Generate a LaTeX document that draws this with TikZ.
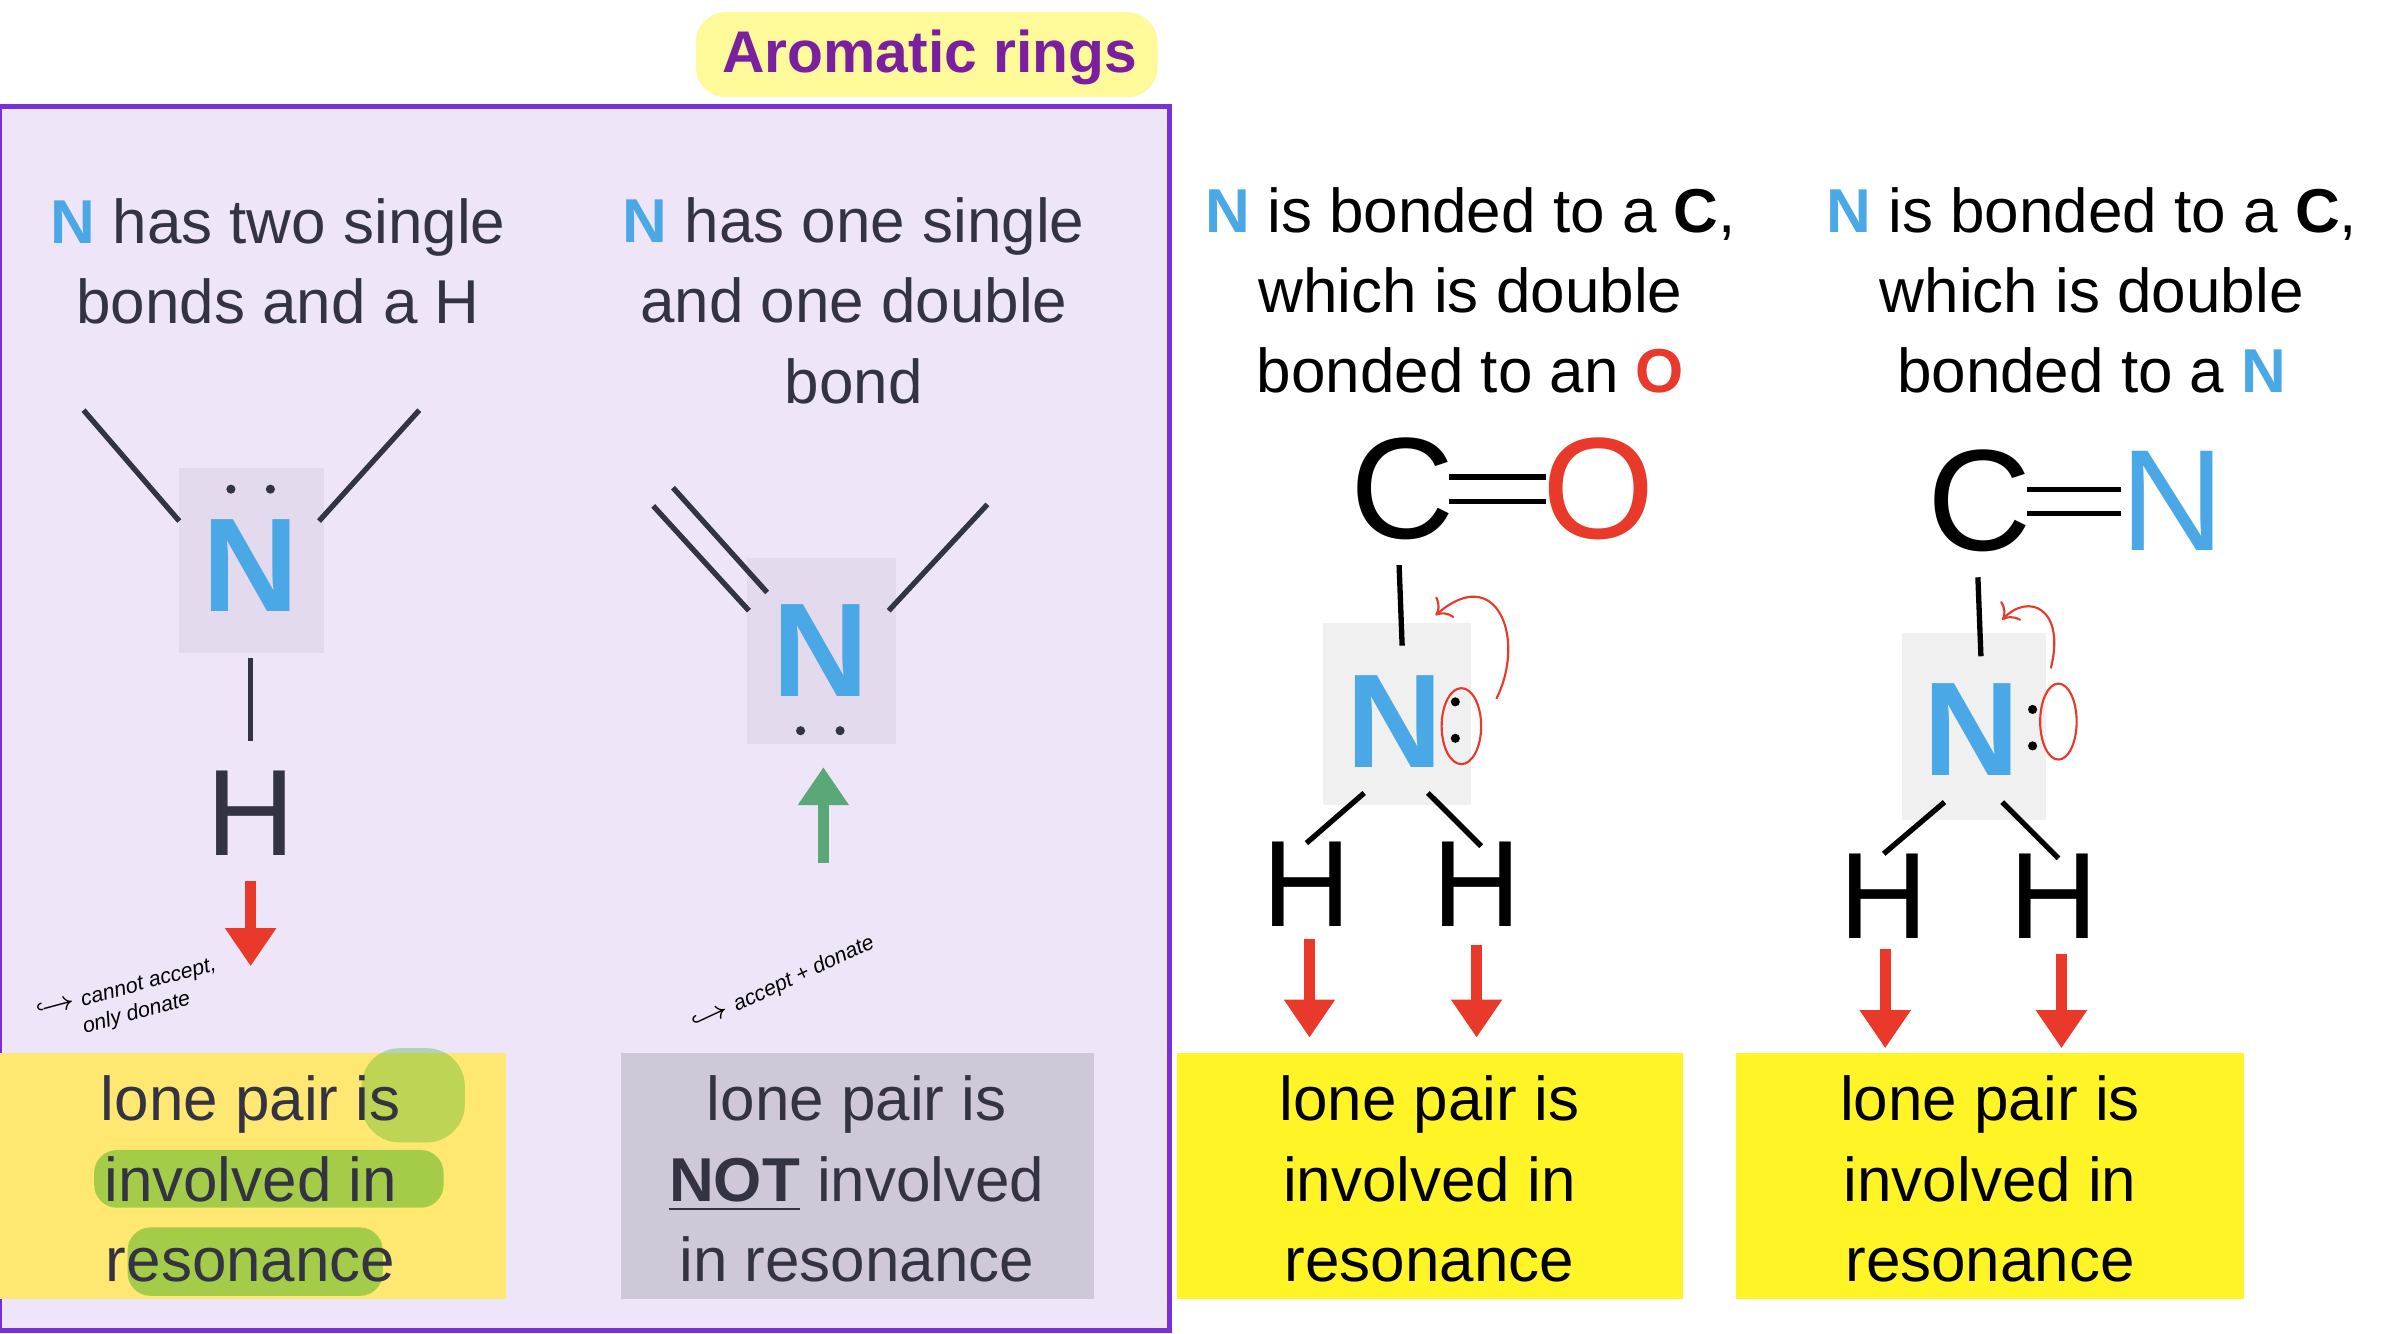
\documentclass[tikz,border=0pt]{standalone}
\usepackage{fontspec}
\setmainfont{Liberation Sans}
\usetikzlibrary{arrows.meta}
\definecolor{nblue}{HTML}{4AA8E6}
\definecolor{ored}{HTML}{E8392B}
\definecolor{boxpurple}{HTML}{EFE5F9}
\definecolor{edgepurple}{HTML}{7B2FD6}
\definecolor{titlepurple}{HTML}{7A1FA0}
\definecolor{sqpurple}{HTML}{E3DAEE}
\definecolor{inkgray}{HTML}{333344}
\definecolor{arrowgreen}{HTML}{5AA878}
\tikzset{
  label/.style={align=center, font=\fontsize{11.6}{15}\selectfont},
  atom/.style={font=\fontsize{25}{25}\selectfont\bfseries},
  bigatom/.style={font=\fontsize{23}{23}\selectfont},
  bond/.style={line width=0.035cm},
  down/.style={ored, line width=0.07cm, -{Triangle[length=0.25cm,width=0.32cm]}},
  up/.style={arrowgreen, line width=0.07cm, -{Triangle[length=0.25cm,width=0.32cm]}},
  note/.style={font=\fontsize{4}{5}\selectfont\itshape},
}
\newcommand{\Nb}{\textcolor{nblue}{\textbf{N}}}
\begin{document}
\begin{tikzpicture}[x=0.01cm,y=-0.01cm]
  \useasboundingbox (0,0) rectangle (1568,878);
  \fill[white] (0,0) rectangle (1568,878);

  % aromatic rings panel
  \draw[edgepurple, line width=0.03cm, fill=boxpurple] (0,70) rectangle (770,876);
  \fill[yellow!40, rounded corners=0.2cm] (458,8) rectangle (762,64);
  \node[font=\fontsize{11}{13}\selectfont\bfseries, text=titlepurple] (title) at (612,38) {Aromatic rings};

  % column 1
  \node[label, text=inkgray] (t1) at (183,172) {\Nb{} has two single\\bonds and a H};
  \fill[sqpurple] (118,308) rectangle (213,430);
  \node[atom, text=nblue] (n1) at (165,372) {N};
  \fill[inkgray] (152,322) circle (0.03cm) (178,322) circle (0.03cm);
  \node[bigatom, text=inkgray] (h1) at (165,535) {H};
  \coordinate (a1) at (55,270); \coordinate (b1) at (276,270);
  \draw[bond, inkgray] (a1) -- (118,343);
  \draw[bond, inkgray] (b1) -- (210,343);
  \draw[bond, inkgray] (165,433) -- (165,488);
  \coordinate (r1) at (165,580); \coordinate (r1e) at (165,636);
  \draw[down] (r1) -- (r1e);
  \node[note, rotate=15, align=left] (c1) at (85,660) {$\hookrightarrow$ cannot accept,\\\qquad only donate};

  % column 2
  \node[label, text=inkgray] (t2) at (562,198) {\Nb{} has one single\\and one double\\bond};
  \fill[sqpurple] (492,367) rectangle (590,490);
  \node[atom, text=nblue] (n2) at (540,428) {N};
  \fill[inkgray] (527,481) circle (0.03cm) (553,481) circle (0.03cm);
  \draw[bond, inkgray] (430,333) -- (493,402);
  \draw[bond, inkgray] (443,321) -- (505,390);
  \draw[bond, inkgray] (650,332) -- (585,402);
  \coordinate (g2) at (542,568); \coordinate (g2e) at (542,505);
  \draw[up] (g2) -- (g2e);
  \node[note, rotate=25] (c2) at (515,648) {$\hookrightarrow$ accept + donate};

  % result boxes in panel
  \fill[yellow!75!orange!55] (0,693) rectangle (333,855);
  \fill[green!60!black, opacity=0.35, rounded corners=0.15cm] (62,757) rectangle (292,795);
  \fill[green!60!black, opacity=0.35, rounded corners=0.15cm] (84,808) rectangle (252,853);
  \fill[green!60!black, opacity=0.25, rounded corners=0.25cm] (238,690) rectangle (306,752);
  \node[label, text=inkgray] (l1) at (165,776) {lone pair is\\involved in\\resonance};
  \fill[sqpurple!80!gray] (409,693) rectangle (720,855);
  \node[label, text=inkgray] (l2) at (564,776) {lone pair is\\\underline{\textbf{NOT}} involved\\in resonance};

  % column 3
  \node[label] (t3) at (968,191) {\Nb{} is bonded to a \textbf{C},\\which is double\\bonded to an \textcolor{ored}{\textbf{O}}};
  \node[bigatom, font=\fontsize{27}{27}\selectfont] (c3) at (923,322) {C};
  \node[bigatom, font=\fontsize{27}{27}\selectfont, text=ored] (o3) at (1052,322) {O};
  \draw[bond] (954,314) -- (1018,314);
  \draw[bond] (954,330) -- (1018,330);
  \fill[gray!12] (871,410) rectangle (968,530);
  \node[atom, text=nblue] (n3) at (918,475) {N};
  \fill (958,462) circle (0.03cm) (958,486) circle (0.03cm);
  \draw[bond] (921,372) -- (923,425);
  \node[bigatom] (h3a) at (860,582) {H};
  \node[bigatom] (h3b) at (972,582) {H};
  \draw[bond] (898,522) -- (860,555);
  \draw[bond] (940,522) -- (975,557);
  \draw[ored, thin] (962,478) ellipse (0.13cm and 0.25cm);
  \draw[ored, thin, ->] (985,460) .. controls (1005,420) and (985,370) .. (945,405);
  \coordinate (r3a) at (862,618); \coordinate (r3b) at (972,622);
  \draw[down] (r3a) -- ++(0,65);
  \draw[down] (r3b) -- ++(0,61);
  \fill[yellow!85] (775,693) rectangle (1108,855);
  \node[label] (l3) at (941,776) {lone pair is\\involved in\\resonance};

  % column 4
  \node[bigatom, font=\fontsize{27}{27}\selectfont] (c4) at (1303,330) {C};
  \node[label] (t4) at (1377,191) {\Nb{} is bonded to a \textbf{C},\\which is double\\bonded to a \Nb};
  \node[bigatom, font=\fontsize{27}{27}\selectfont, text=nblue] (n4b) at (1430,330) {N};
  \draw[bond] (1334,322) -- (1396,322);
  \draw[bond] (1334,338) -- (1396,338);
  \fill[gray!12] (1252,417) rectangle (1347,540);
  \node[atom, text=nblue] (n4) at (1298,480) {N};
  \fill (1338,467) circle (0.03cm) (1338,491) circle (0.03cm);
  \draw[bond] (1302,380) -- (1304,432);
  \node[bigatom] (h4a) at (1240,590) {H};
  \node[bigatom] (h4b) at (1352,590) {H};
  \draw[bond] (1280,528) -- (1240,562);
  \draw[bond] (1318,528) -- (1355,565);
  \draw[ored, thin] (1355,475) ellipse (0.12cm and 0.25cm);
  \draw[ored, thin, ->] (1350,440) .. controls (1360,400) and (1335,390) .. (1318,408);
  \coordinate (r4a) at (1241,625); \coordinate (r4b) at (1357,628);
  \draw[down] (r4a) -- ++(0,65);
  \draw[down] (r4b) -- ++(0,62);
  \fill[yellow!85] (1143,693) rectangle (1477,855);
  \node[label] (l4) at (1310,776) {lone pair is\\involved in\\resonance};
\end{tikzpicture}
\end{document}
